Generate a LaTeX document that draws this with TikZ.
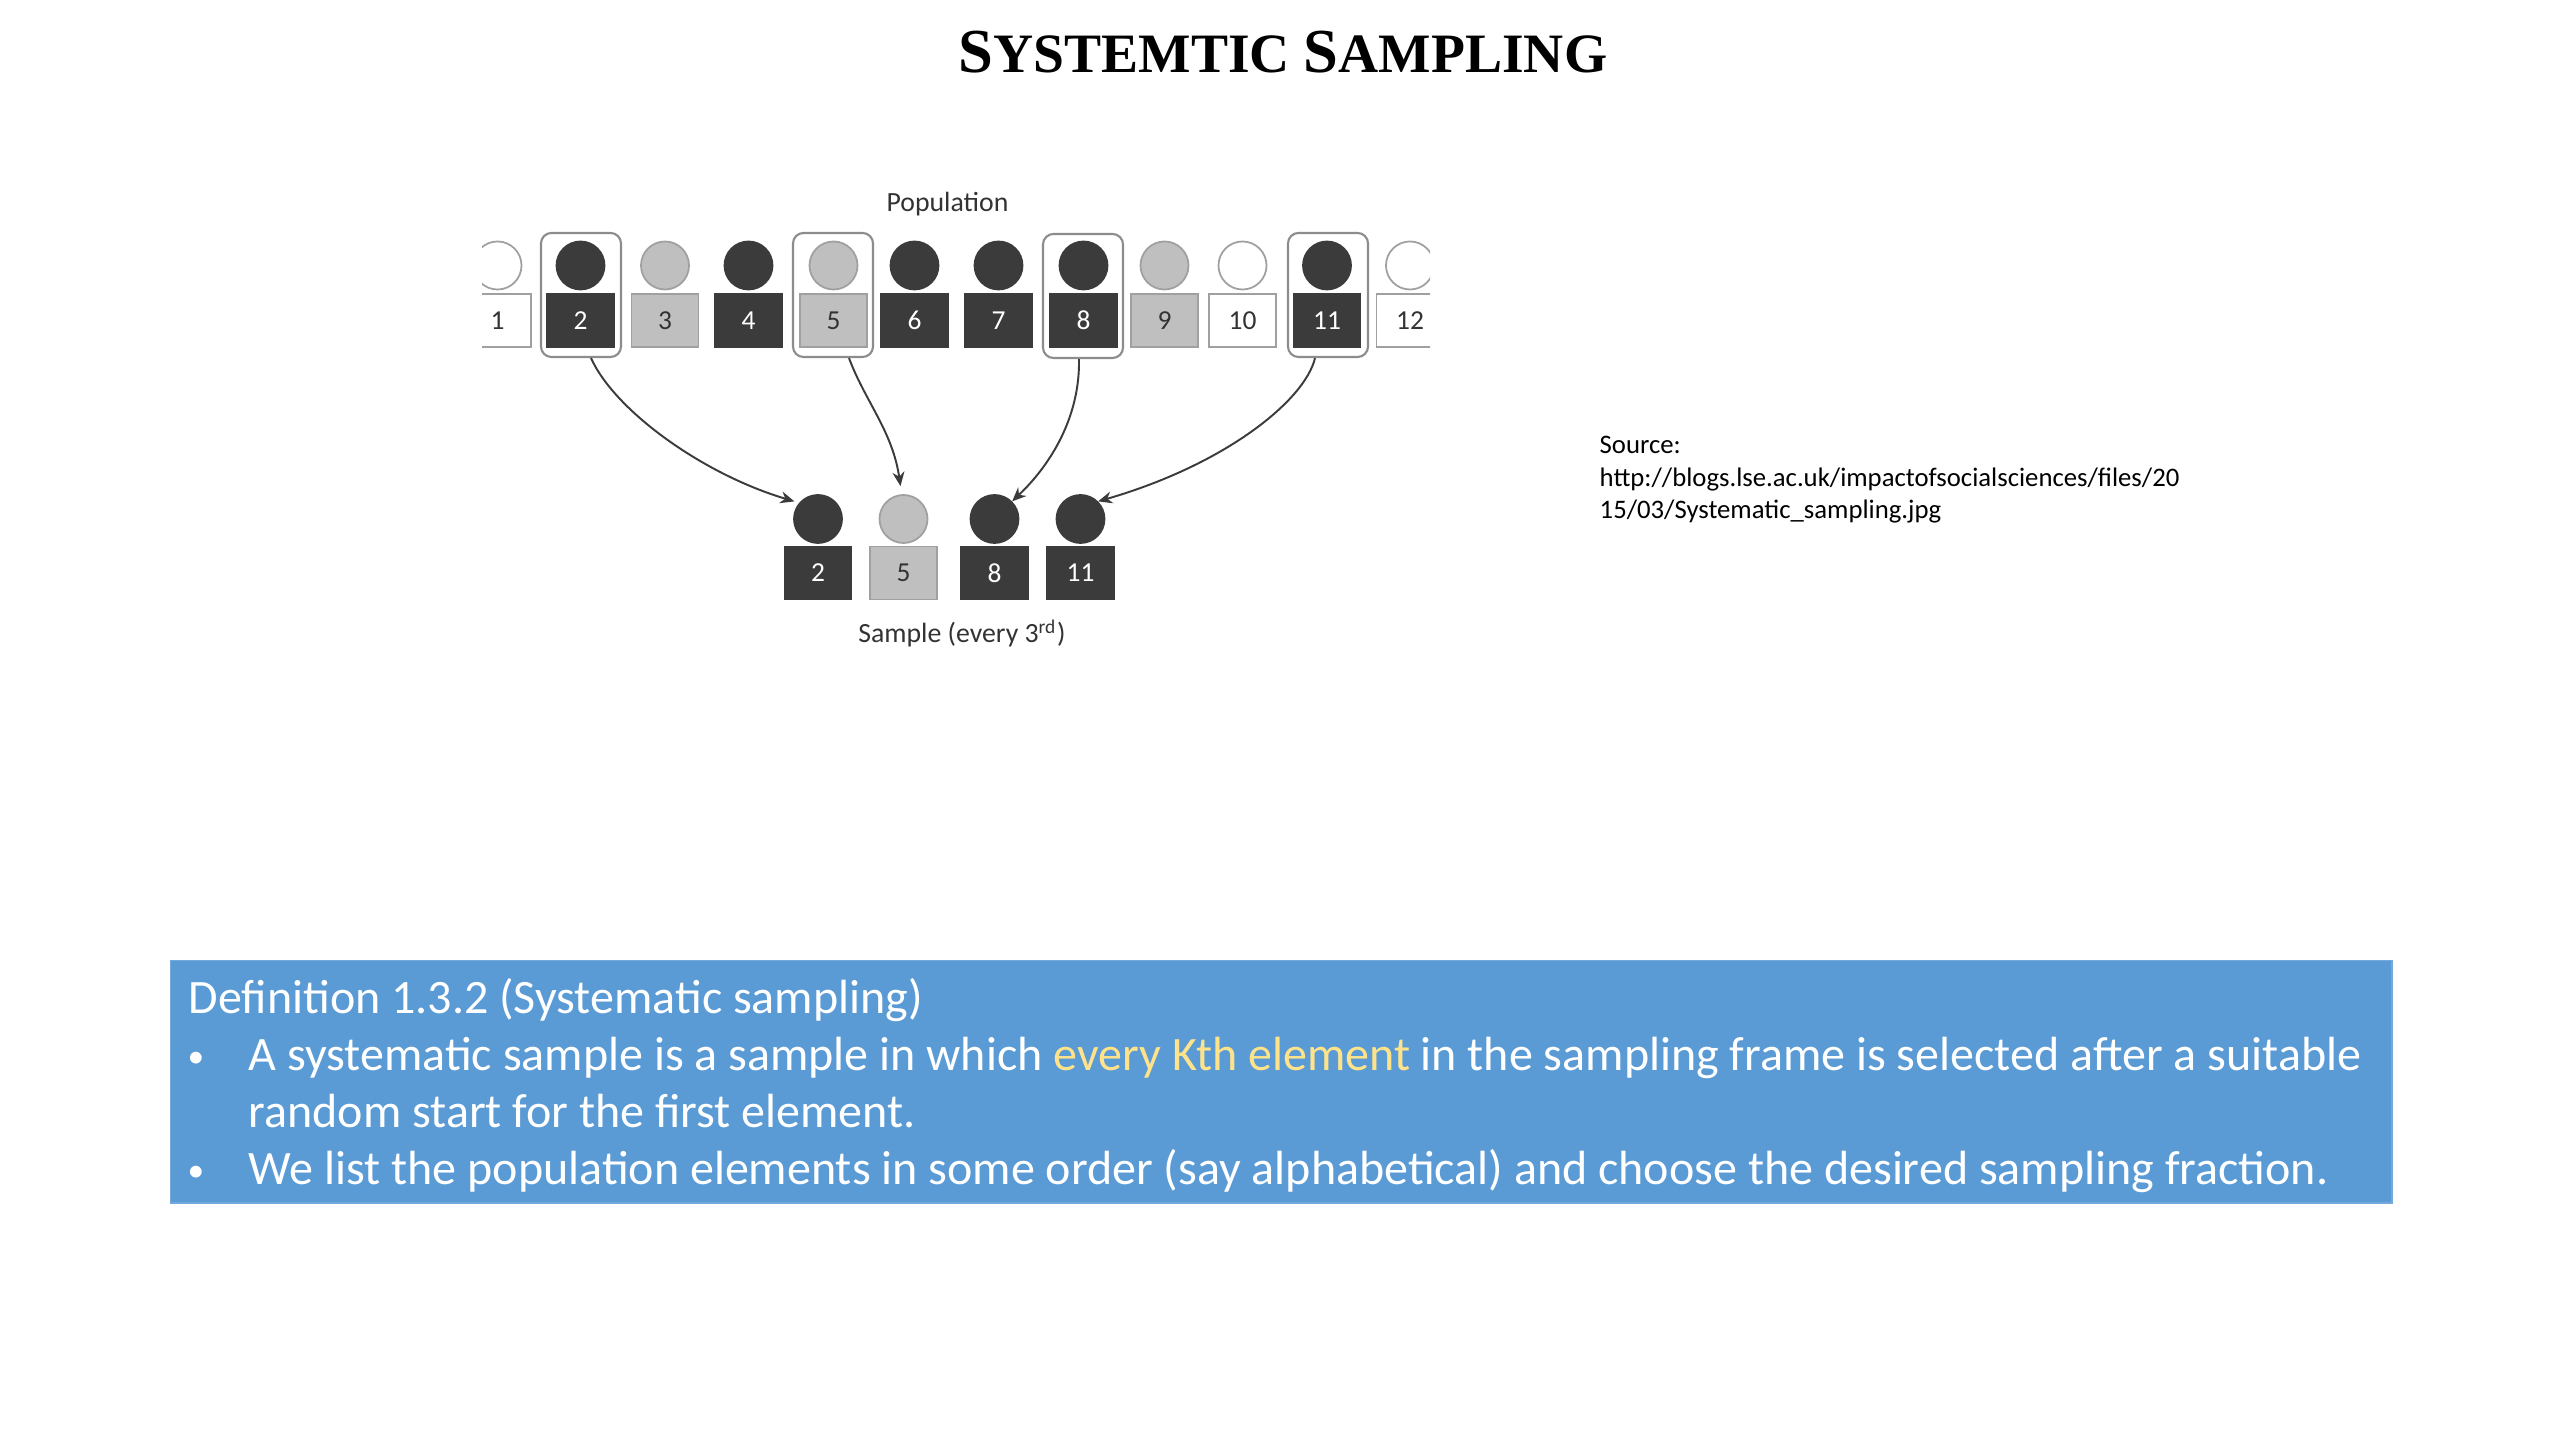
\documentclass[tikz,border=0pt]{standalone}
\usepackage{fontspec}
\setmainfont{Carlito}
\newfontfamily\titlefont{Liberation Serif}
\usetikzlibrary{calc,arrows.meta}
\definecolor{darkfig}{HTML}{3B3B3B}
\definecolor{lightfig}{HTML}{BFBFBF}
\definecolor{figedge}{HTML}{A0A0A0}
\definecolor{defblue}{HTML}{5B9BD5}
\definecolor{hiyellow}{HTML}{FFE38A}
\definecolor{hlgray}{HTML}{8C8C8C}
\definecolor{labtext}{HTML}{333333}
\tikzset{
  head/.style={circle, minimum size=0.48cm, inner sep=0pt, line width=0.5pt},
  body/.style={rectangle, minimum width=0.67cm, minimum height=0.53cm, inner sep=0pt, line width=0.5pt, font=\fontsize{7.8}{9}\selectfont},
  dk/.style={fill=darkfig, draw=darkfig, text=white},
  lt/.style={fill=lightfig, draw=figedge, text=labtext},
  wt/.style={fill=white, draw=figedge, text=labtext},
  hlbox/.style={rectangle, rounded corners=3pt, draw=hlgray, line width=0.6pt, fill=white, minimum width=0.8cm, minimum height=1.24cm, inner sep=0pt},
  smalllab/.style={font=\fontsize{7.9}{9.5}\selectfont, text=labtext, inner sep=0pt},
  srclab/.style={font=\fontsize{7.6}{9.4}\selectfont, text=black, inner sep=0pt, anchor=base west},
  deftext/.style={font=\fontsize{13.65}{16}\selectfont, text=white, inner sep=0pt},
  bullet/.style={font=\fontsize{9.5}{11}\selectfont, text=white, inner sep=0pt},
  conn/.style={draw=darkfig, line width=0.55pt, -{Stealth[length=4pt,width=3.4pt]}}
}
\begin{document}
\begin{tikzpicture}[x=0.01cm,y=-0.01cm]
\fill[white] (0,0) rectangle (2560,1440);
\useasboundingbox (0,0) rectangle (2560,1440);

% title
\node[anchor=base, inner sep=0pt] (title) at (1283,73)
  {\titlefont\bfseries\fontsize{15.8}{20}\selectfont{\fontsize{17.8}{20}\selectfont S}YSTEMTIC {\fontsize{17.8}{20}\selectfont S}AMPLING};

% population label
\node[smalllab, anchor=base] (poplab) at (947.5,212) {Population};

% population row
\begin{scope}
\clip (482,215) rectangle (1430,372);
\node[hlbox] (hl2) at (581,295) {};
\node[hlbox] (hl5) at (833,295) {};
\node[hlbox] (hl8) at (1083,296) {};
\node[hlbox] (hl11) at (1328,295) {};
\foreach \i/\x/\c in {1/497.5/wt,2/580.5/dk,3/665/lt,4/748.5/dk,5/833.5/lt,6/914.5/dk,7/998.5/dk,8/1083.5/dk,9/1164.5/lt,10/1242.5/wt,11/1327/dk,12/1410/wt}{
  \node[head,\c] (h\i) at (\x,265.5) {};
  \node[body,\c] (b\i) at (\x,320.5) {\i};
}
\end{scope}

% sample row
\foreach \i/\x/\c in {2/818/dk,5/903.5/lt,8/994.5/dk,11/1080.5/dk}{
  \node[head,\c] (sh\i) at (\x,519) {};
  \node[body,\c] (sb\i) at (\x,573) {\i};
}
\node[smalllab, anchor=base] (samplab) at (962,643) {Sample (every 3\textsuperscript{rd})};

% arrows
\draw[conn] ($(hl2.south)+(10,0)$) .. controls +(24,53) and +(-91,-27) .. ($(sh2.north west)+(-6,0)$);
\draw[conn] ($(hl5.south)+(16,0)$) .. controls +(16,43) and +(-8,-55) .. ($(sh5.north)+(-3,-8)$);
\draw[conn] ($(hl8.south)+(-4,0)$) .. controls +(1,52) and +(44,-42) .. (sh8.north east);
\draw[conn] ($(hl11.south)+(-13,0)$) .. controls +(-10,42) and +(128,-37) .. (sh11.north east);

% source
\node[srclab] (src1) at (1599,454) {Source:};
\node[srclab] (src2) at (1599,487) {http://blogs.lse.ac.uk/impactofsocialsciences/files/20};
\node[srclab] (src3) at (1599,519) {15/03/Systematic\_sampling.jpg};

% definition box
\node[fill=defblue, draw=defblue!85!white, line width=0.4pt, anchor=north west, minimum width=22.2cm, minimum height=2.42cm, inner sep=0pt] (defbox) at (170,960) {};
\node[deftext, anchor=base west] (d1) at (188,1013) {Definition 1.3.2 (Systematic sampling)};
\node[bullet, anchor=base] (bul1) at (196,1067) {•};
\node[deftext, anchor=base west] (d2) at (248,1070) {A systematic sample is a sample in which \textcolor{hiyellow}{every Kth element} in the sampling frame is selected after a suitable};
\node[deftext, anchor=base west] (d3) at (248,1127) {random start for the first element.};
\node[bullet, anchor=base] (bul2) at (196,1181) {•};
\node[deftext, anchor=base west] (d4) at (248,1184) {We list the population elements in some order (say alphabetical) and choose the desired sampling fraction.};
\end{tikzpicture}
\end{document}
